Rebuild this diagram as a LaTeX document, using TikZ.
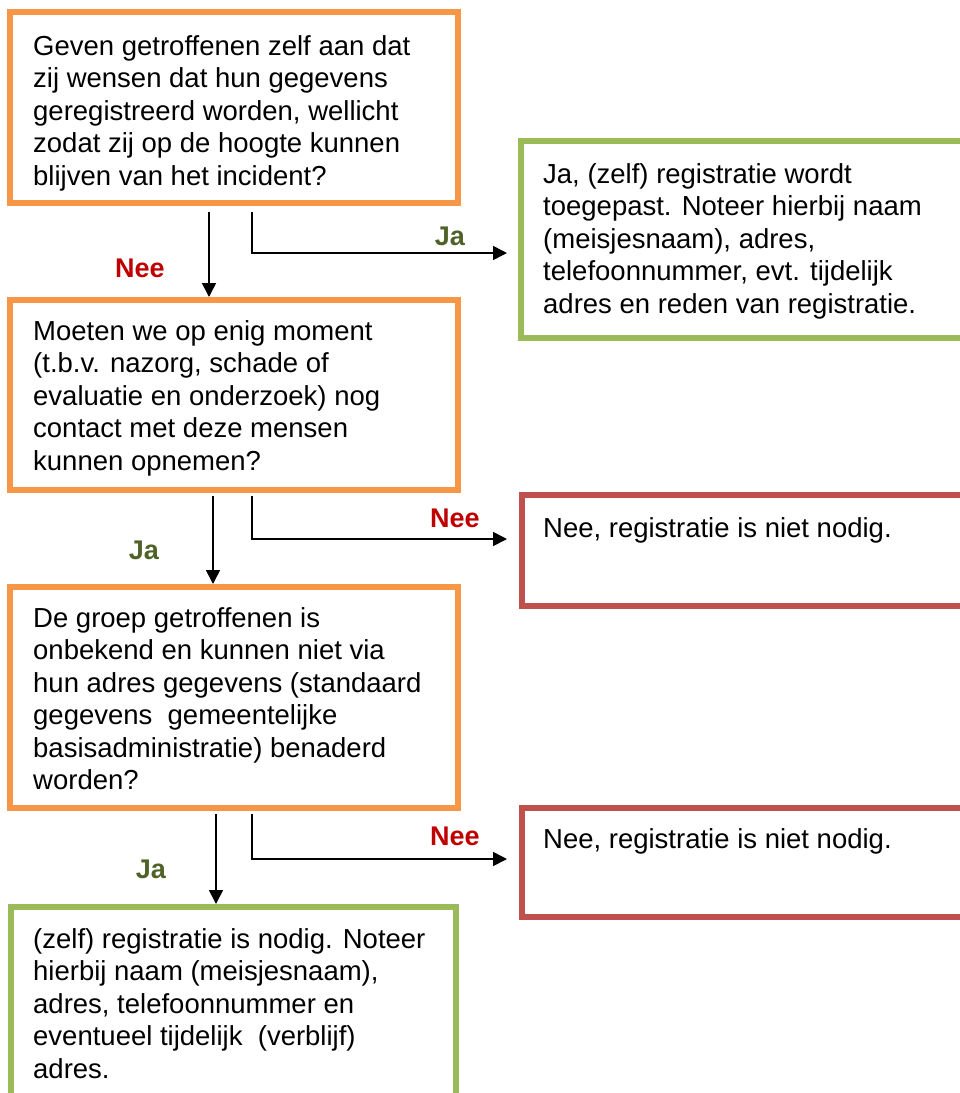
\documentclass[tikz,border=0pt]{standalone}
\usepackage{fontspec}
\setmainfont{Liberation Sans}
\usetikzlibrary{arrows.meta}
\definecolor{borange}{HTML}{F79646}
\definecolor{bgreen}{HTML}{9BBB59}
\definecolor{bred}{HTML}{C0504D}
\definecolor{lgreen}{HTML}{4F6228}
\definecolor{lred}{HTML}{C00000}
\newcommand\boxlines[1]{\begin{tabular}[t]{@{}l@{}}#1\end{tabular}}
\begin{document}
\begin{tikzpicture}[x=1pt,y=-1pt,
  box/.style={draw, line width=6pt, fill=white, inner sep=0pt},
  qbox/.style={box, draw=borange},
  ybox/.style={box, draw=bgreen},
  nbox/.style={box, draw=bred},
  txt/.style={anchor=base west, inner sep=0pt, font=\fontsize{27.5}{32.5}\selectfont},
  lbl/.style={font=\fontsize{27}{32}\selectfont\bfseries, inner sep=0pt},
  ja/.style={lbl, text=lgreen},
  nee/.style={lbl, text=lred},
  arr/.style={line width=1.6pt, -{Triangle[length=14pt,width=14pt]}}]
\useasboundingbox (0,0) rectangle (960,1093);
\clip (0,0) rectangle (960,1093);
\fill[white] (0,0) rectangle (960,1093);

% boxes
\node[qbox, minimum width=448pt, minimum height=191pt] (q1) at (234,107.5) {};
\node[ybox, minimum width=479pt, minimum height=197pt] (y1) at (760.5,239.5) {};
\node[qbox, minimum width=448pt, minimum height=190pt] (q2) at (234,395) {};
\node[nbox, minimum width=478pt, minimum height=111pt] (n1) at (761,550.5) {};
\node[qbox, minimum width=448pt, minimum height=221pt] (q3) at (234,697.5) {};
\node[nbox, minimum width=478pt, minimum height=109pt] (n2) at (761,862.5) {};
\node[ybox, minimum width=445pt, minimum height=213pt] (y2) at (233.5,1013.5) {};

% texts
\node[txt] (t1) at (33,55) {\boxlines{Geven getroffenen zelf aan dat\\zij wensen dat hun gegevens\\geregistreerd worden, wellicht\\zodat zij op de hoogte kunnen\\blijven van het incident?}};
\node[txt] (t2) at (543,183) {\boxlines{Ja, (zelf) registratie wordt\\toegepast. Noteer hierbij naam\\(meisjesnaam), adres,\\telefoonnummer, evt. tijdelijk\\adres en reden van registratie.}};
\node[txt] (t3) at (33,340) {\boxlines{Moeten we op enig moment\\(t.b.v. nazorg, schade of\\evaluatie en onderzoek) nog\\contact met deze mensen\\kunnen opnemen?}};
\node[txt] (t4) at (543,537) {Nee, registratie is niet nodig.};
\node[txt] (t5) at (33,627) {\boxlines{De groep getroffenen is\\onbekend en kunnen niet via\\hun adres gegevens (standaard\\gegevens\ \ gemeentelijke\\basisadministratie) benaderd\\worden?}};
\node[txt] (t6) at (543,848) {Nee, registratie is niet nodig.};
\node[txt] (t7) at (33,948) {\boxlines{(zelf) registratie is nodig. Noteer\\hierbij naam (meisjesnaam),\\adres, telefoonnummer en\\eventueel tijdelijk\ \ (verblijf)\\adres.}};

% connectors
\draw[arr] ([shift={(202,6)}]q1.south west) -- ([shift={(202,0)}]q2.north west);
\draw[arr] ([shift={(245,6)}]q1.south west) |- ([shift={(-11,13.5)}]y1.west);
\draw[arr] ([shift={(206,3)}]q2.south west) -- ([shift={(206,0)}]q3.north west);
\draw[arr] ([shift={(245,3)}]q2.south west) |- ([shift={(-12,-11.5)}]n1.west);
\draw[arr] ([shift={(209,3)}]q3.south west) -- ([shift={(208,0)}]y2.north west);
\draw[arr] ([shift={(245,3)}]q3.south west) |- ([shift={(-12,-3.5)}]n2.west);

% labels
\node[ja] (l1) at (450,236) {Ja};
\node[nee] (l2) at (140,268) {Nee};
\node[nee] (l3) at (455,518) {Nee};
\node[ja] (l4) at (144,550) {Ja};
\node[nee] (l5) at (455,836) {Nee};
\node[ja] (l6) at (151,869) {Ja};
\end{tikzpicture}
\end{document}
